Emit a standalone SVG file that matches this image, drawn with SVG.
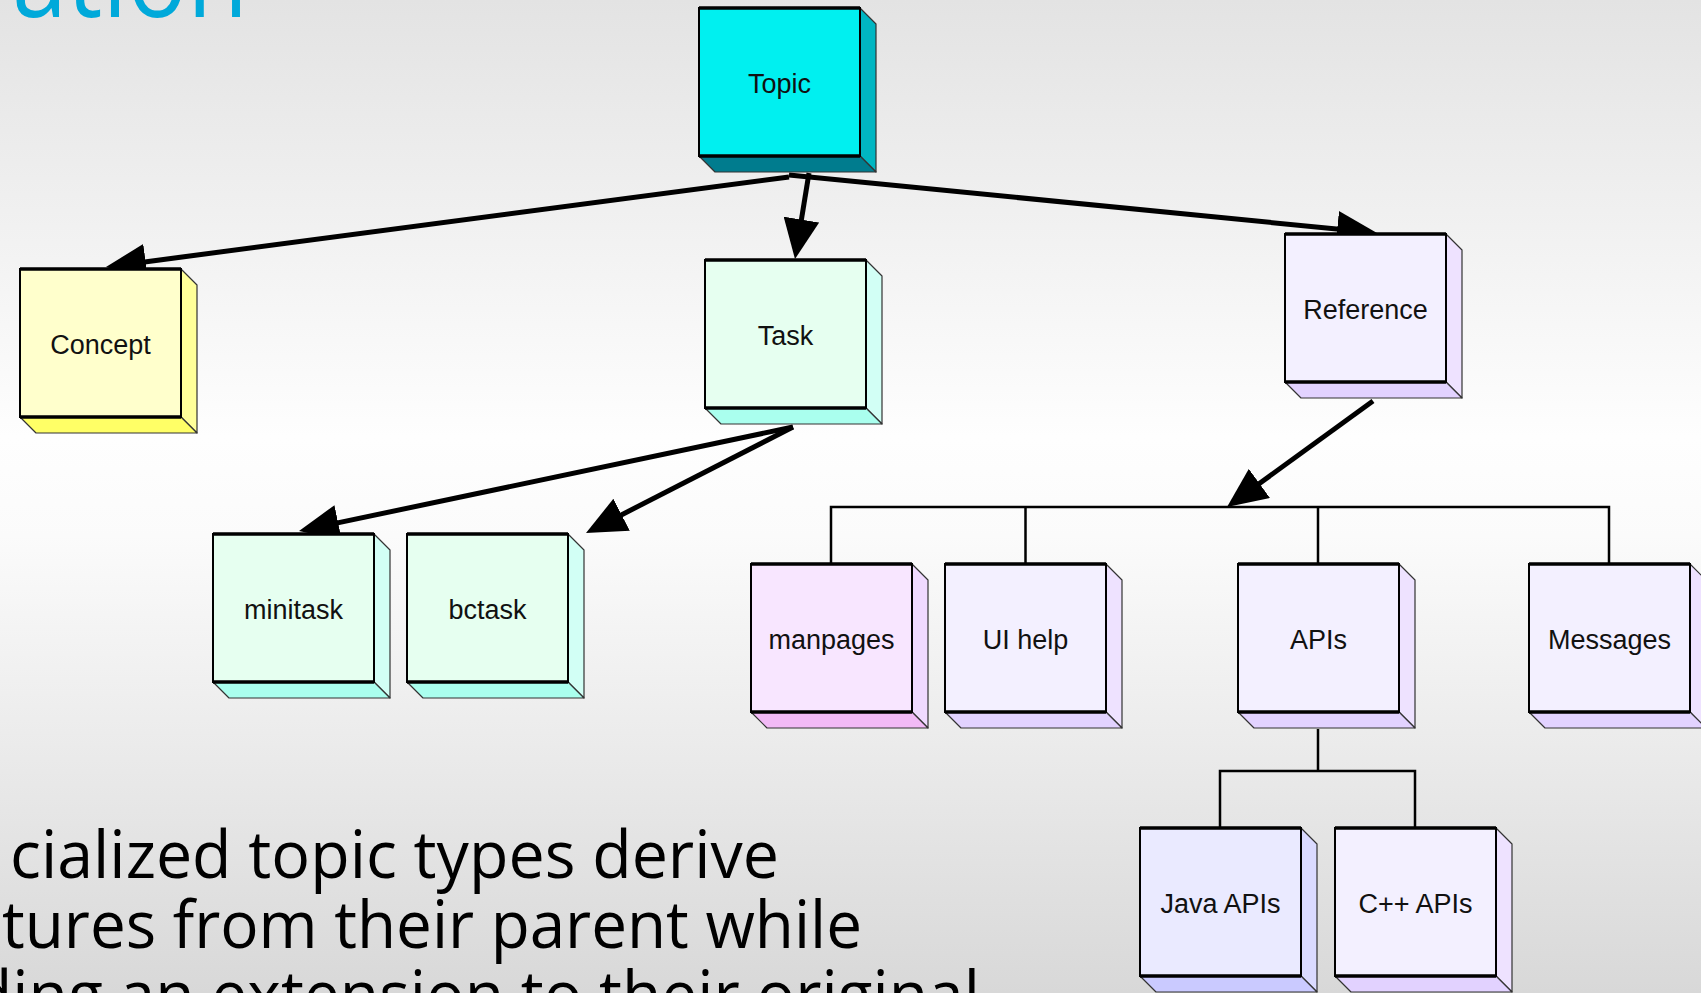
<svg xmlns="http://www.w3.org/2000/svg" width="1701" height="993" viewBox="0 0 1701 993">
<defs>
<linearGradient id="bg" x1="0" y1="0" x2="0" y2="1">
<stop offset="0" stop-color="#E3E3E3"/>
<stop offset="0.44" stop-color="#FEFEFE"/>
<stop offset="0.54" stop-color="#FBFBFB"/>
<stop offset="1" stop-color="#D8D8D8"/>
</linearGradient>
<marker id="arrow" markerUnits="userSpaceOnUse" viewBox="0 0 40 36" refX="20" refY="18" markerWidth="40" markerHeight="36" orient="auto">
<path d="M0,0 L40,18 L0,36 Z" fill="#000"/>
</marker>
<style>
.node .f{stroke:#000;stroke-width:2}
.node .s,.node .b{stroke:#333;stroke-width:1.2;stroke-linejoin:round}
.node .e{stroke:#000;stroke-width:3.5;fill:none}
.node text{font-family:"Liberation Sans",Arial,sans-serif;font-size:27px;fill:#111;text-anchor:middle}
.topic .f{fill:#00F0F0}.topic .s{fill:#00B6C2}.topic .b{fill:#007C8E}
.concept .f{fill:#FFFFCC}.concept .s{fill:#FFFF99}.concept .b{fill:#FFFF66}
.task .f{fill:#E6FFF0}.task .s{fill:#D2FFF5}.task .b{fill:#AAFFEE}
.ref .f{fill:#F3F0FF}.ref .s{fill:#EEE2FF}.ref .b{fill:#E2D2FF}
.man .f{fill:#F8E6FF}.man .s{fill:#F0DAFF}.man .b{fill:#F2BAF6}
.java .f{fill:#EAEAFF}.java .s{fill:#DADAFF}.java .b{fill:#CACAFF}
.arr{stroke:#000;stroke-width:5;fill:none;marker-end:url(#arrow)}
.bus{stroke:#000;stroke-width:2.5;fill:none}
.body{font-family:"Open Sans","Liberation Sans",sans-serif;font-size:66px;fill:#000}
.title{font-family:"Open Sans","Liberation Sans",sans-serif;font-size:110px;fill:#00A9DA}
</style>
</defs>
<rect x="0" y="0" width="1701" height="993" fill="url(#bg)"/>
<text class="title" x="12" y="17" textLength="236" lengthAdjust="spacingAndGlyphs">ation</text>

<g id="connectors">
<line class="arr" x1="789" y1="177" x2="125.8" y2="264.4"/>
<line class="arr" x1="809" y1="173" x2="798.2" y2="239.3"/>
<line class="arr" x1="789" y1="175" x2="1357.1" y2="231"/>
<line class="arr" x1="793" y1="427" x2="318.6" y2="526.9"/>
<line class="arr" x1="793" y1="427" x2="603.8" y2="523.9"/>
<line class="arr" x1="1373" y1="401" x2="1243.2" y2="495.2"/>
<path class="bus" d="M831,564 V507 H1609 V564 M1025.5,507 V564 M1318,507 V564"/>
<path class="bus" d="M1318,729 V771 M1220,828 V771 H1415 V828"/>
</g>

<g id="node-topic" class="node topic" transform="translate(699,8)">
<polygon class="s" points="161,0 177,16 177,164 161,148"/><polygon class="b" points="0,148 16,164 177,164 161,148"/>
<rect class="f" x="0" y="0" width="161" height="148"/><path class="e" d="M0,0 H161 M0,148 H161"/>
<text x="80.5" y="85">Topic</text></g>

<g id="node-concept" class="node concept" transform="translate(20,269)">
<polygon class="s" points="161,0 177,16 177,164 161,148"/><polygon class="b" points="0,148 16,164 177,164 161,148"/>
<rect class="f" x="0" y="0" width="161" height="148"/><path class="e" d="M0,0 H161 M0,148 H161"/>
<text x="80.5" y="84.5">Concept</text></g>

<g id="node-task" class="node task" transform="translate(705,260)">
<polygon class="s" points="161,0 177,16 177,164 161,148"/><polygon class="b" points="0,148 16,164 177,164 161,148"/>
<rect class="f" x="0" y="0" width="161" height="148"/><path class="e" d="M0,0 H161 M0,148 H161"/>
<text x="80.5" y="84.5">Task</text></g>

<g id="node-reference" class="node ref" transform="translate(1285,234)">
<polygon class="s" points="161,0 177,16 177,164 161,148"/><polygon class="b" points="0,148 16,164 177,164 161,148"/>
<rect class="f" x="0" y="0" width="161" height="148"/><path class="e" d="M0,0 H161 M0,148 H161"/>
<text x="80.5" y="84.5">Reference</text></g>

<g id="node-minitask" class="node task" transform="translate(213,534)">
<polygon class="s" points="161,0 177,16 177,164 161,148"/><polygon class="b" points="0,148 16,164 177,164 161,148"/>
<rect class="f" x="0" y="0" width="161" height="148"/><path class="e" d="M0,0 H161 M0,148 H161"/>
<text x="80.5" y="84.5">minitask</text></g>

<g id="node-bctask" class="node task" transform="translate(407,534)">
<polygon class="s" points="161,0 177,16 177,164 161,148"/><polygon class="b" points="0,148 16,164 177,164 161,148"/>
<rect class="f" x="0" y="0" width="161" height="148"/><path class="e" d="M0,0 H161 M0,148 H161"/>
<text x="80.5" y="84.5">bctask</text></g>

<g id="node-manpages" class="node man" transform="translate(751,564)">
<polygon class="s" points="161,0 177,16 177,164 161,148"/><polygon class="b" points="0,148 16,164 177,164 161,148"/>
<rect class="f" x="0" y="0" width="161" height="148"/><path class="e" d="M0,0 H161 M0,148 H161"/>
<text x="80.5" y="84.5">manpages</text></g>

<g id="node-uihelp" class="node ref" transform="translate(945,564)">
<polygon class="s" points="161,0 177,16 177,164 161,148"/><polygon class="b" points="0,148 16,164 177,164 161,148"/>
<rect class="f" x="0" y="0" width="161" height="148"/><path class="e" d="M0,0 H161 M0,148 H161"/>
<text x="80.5" y="84.5">UI help</text></g>

<g id="node-apis" class="node ref" transform="translate(1238,564)">
<polygon class="s" points="161,0 177,16 177,164 161,148"/><polygon class="b" points="0,148 16,164 177,164 161,148"/>
<rect class="f" x="0" y="0" width="161" height="148"/><path class="e" d="M0,0 H161 M0,148 H161"/>
<text x="80.5" y="84.5">APIs</text></g>

<g id="node-messages" class="node ref" transform="translate(1529,564)">
<polygon class="s" points="161,0 177,16 177,164 161,148"/><polygon class="b" points="0,148 16,164 177,164 161,148"/>
<rect class="f" x="0" y="0" width="161" height="148"/><path class="e" d="M0,0 H161 M0,148 H161"/>
<text x="80.5" y="84.5">Messages</text></g>

<g id="node-javaapis" class="node java" transform="translate(1140,828)">
<polygon class="s" points="161,0 177,16 177,164 161,148"/><polygon class="b" points="0,148 16,164 177,164 161,148"/>
<rect class="f" x="0" y="0" width="161" height="148"/><path class="e" d="M0,0 H161 M0,148 H161"/>
<text x="80.5" y="84.5">Java APIs</text></g>

<g id="node-cppapis" class="node ref" transform="translate(1335,828)">
<polygon class="s" points="161,0 177,16 177,164 161,148"/><polygon class="b" points="0,148 16,164 177,164 161,148"/>
<rect class="f" x="0" y="0" width="161" height="148"/><path class="e" d="M0,0 H161 M0,148 H161"/>
<text x="80.5" y="84.5">C++ APIs</text></g>

<text class="body" x="10" y="878" textLength="769" lengthAdjust="spacingAndGlyphs">cialized topic types derive</text>
<text class="body" x="2" y="948" textLength="860" lengthAdjust="spacingAndGlyphs">tures from their parent while</text>
<text class="body" x="-27" y="1018" textLength="1007" lengthAdjust="spacingAndGlyphs">ding an extension to their original</text>
</svg>
